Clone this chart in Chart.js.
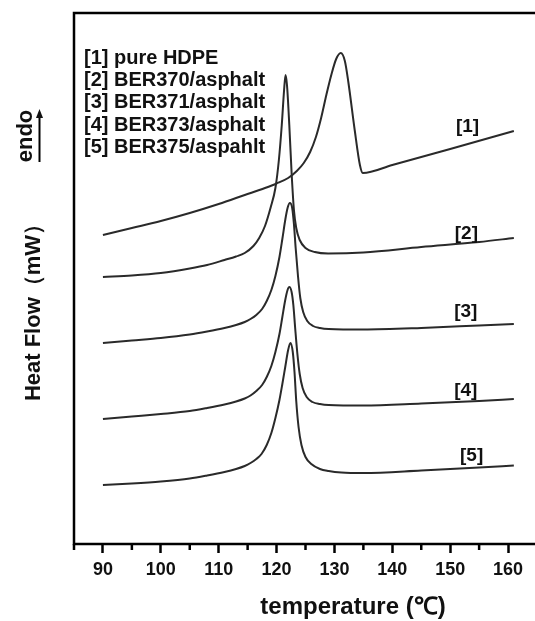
<!DOCTYPE html>
<html>
<head>
<meta charset="utf-8">
<script src="https://cdn.jsdelivr.net/npm/chart.js@4"></script>
<style>
  html, body { margin: 0; padding: 0; background: #fff; overflow: hidden; }
  #wrap { width: 550px; height: 621px; position: relative; }
</style>
</head>
<body>
<div id="wrap"><canvas id="dsc"></canvas></div>
<script>
// curve names, in legend order
const names = ['[1] pure HDPE', '[2] BER370/asphalt', '[3] BER371/asphalt', '[4] BER373/asphalt', '[5] BER375/aspahlt'];
const tags = ['[1]', '[2]', '[3]', '[4]', '[5]'];

// temperature (°C) / heat flow (arbitrary, offset curves)
const t1 = [90, 95, 100, 105, 110, 114.5, 118, 120, 122, 123.5, 124.7, 125.8, 126.8, 127.7, 128.6, 129.5, 130.3, 131.1, 131.8, 132.4, 133.5, 134.4, 134.9, 140, 150, 161];
const hf1 = [30.9, 31.6, 32.3, 33.1, 34.0, 34.9, 35.6, 36.05, 36.6, 37.3, 38.1, 39.2, 40.7, 42.6, 44.9, 47.0, 48.5, 49.1, 48.3, 46.2, 41.4, 37.9, 37.1, 37.9, 39.5, 41.3];

const t2 = [90, 95, 100, 105, 108, 111, 113, 114.5, 116, 117, 118, 119, 119.8, 120.4, 120.9, 121.3, 121.55, 121.8, 122.2, 122.6, 123.0, 123.4, 124.0, 125, 126.6, 128.9, 135, 145, 155, 161];
const hf2 = [26.7, 26.85, 27.1, 27.55, 27.9, 28.4, 28.75, 29.1, 29.8, 30.6, 31.8, 33.7, 35.6, 38.4, 41.9, 45.4, 46.9, 45.9, 41.9, 37.1, 33.4, 31.6, 30.4, 29.6, 29.2, 29.05, 29.15, 29.7, 30.2, 30.6];

const t3 = [90, 95, 100, 105, 108, 111, 113, 114.5, 115.5, 116.5, 117.5, 118.3, 119.1, 119.8, 120.5, 121.0, 121.5, 121.9, 122.3, 122.7, 123.0, 123.3, 123.7, 124.1, 124.6, 125.3, 126.3, 127.5, 129, 135, 145, 155, 161];
const hf3 = [20.1, 20.35, 20.6, 20.95, 21.25, 21.6, 21.9, 22.2, 22.5, 22.9, 23.5, 24.3, 25.4, 26.8, 28.7, 30.5, 32.4, 33.6, 34.1, 33.6, 32.0, 29.6, 26.8, 24.6, 23.2, 22.3, 21.8, 21.6, 21.5, 21.45, 21.6, 21.85, 22.0];

const t4 = [90, 95, 100, 105, 108, 111, 113, 114.5, 115.5, 116.5, 117.5, 118.3, 119.1, 119.8, 120.5, 121.0, 121.5, 121.9, 122.2, 122.6, 122.9, 123.2, 123.6, 124.0, 124.5, 125.2, 126.2, 127.5, 129, 135, 145, 155, 161];
const hf4 = [12.5, 12.75, 13.0, 13.3, 13.6, 13.95, 14.25, 14.55, 14.85, 15.3, 15.9, 16.7, 17.8, 19.2, 21.0, 22.7, 24.4, 25.4, 25.7, 25.2, 23.9, 21.7, 19.0, 17.0, 15.6, 14.7, 14.2, 14.0, 13.9, 13.85, 14.05, 14.3, 14.5];

const t5 = [90, 95, 100, 105, 108, 111, 113, 114.5, 115.5, 116.5, 117.4, 118.3, 119.1, 119.8, 120.5, 121.0, 121.5, 122.0, 122.4, 122.8, 123.1, 123.4, 123.8, 124.3, 125.0, 126.0, 127.5, 129, 131.2, 135, 145, 155, 161];
const hf5 = [5.9, 6.05, 6.25, 6.55, 6.85, 7.2, 7.5, 7.8, 8.1, 8.5, 9.0, 9.9, 11.1, 12.6, 14.4, 16.0, 17.7, 19.4, 20.1, 19.2, 17.2, 14.3, 11.7, 9.9, 8.7, 8.0, 7.5, 7.3, 7.15, 7.1, 7.35, 7.65, 7.85];

// where the [n] tags sit, in data units
const tagT = [153.0, 152.8, 152.7, 152.7, 153.7];
const tagHF = [41.7, 31.0, 23.2, 15.3, 8.8];

const xTicks = [90, 100, 110, 120, 130, 140, 150, 160];

const temps = [t1, t2, t3, t4, t5];
const flows = [hf1, hf2, hf3, hf4, hf5];

const FONT = "'Liberation Sans', Arial, sans-serif";

// frame, minor ticks, axis titles, legend text and curve tags
const decor = {
  id: 'decor',
  afterDraw(chart) {
    const { ctx, chartArea: a, scales: { x, y } } = chart;
    ctx.save();
    ctx.strokeStyle = '#000';
    ctx.lineWidth = 2.5;
    ctx.strokeRect(a.left, a.top, a.right - a.left, a.bottom - a.top);

    // minor ticks
    for (let v = 85; v <= 165; v += 10) {
      const px = x.getPixelForValue(v);
      ctx.beginPath();
      ctx.moveTo(px, a.bottom);
      ctx.lineTo(px, a.bottom + 6);
      ctx.stroke();
    }

    ctx.fillStyle = '#111';
    // legend block
    ctx.font = 'bold 20px ' + FONT;
    ctx.textAlign = 'left';
    ctx.textBaseline = 'middle';
    names.forEach((n, i) => ctx.fillText(n, 84, 58 + i * 22.4));

    // curve tags
    ctx.font = 'bold 19px ' + FONT;
    ctx.textAlign = 'center';
    tags.forEach((s, i) => {
      ctx.fillText(s, x.getPixelForValue(tagT[i]), y.getPixelForValue(tagHF[i]));
    });

    // x title
    ctx.font = 'bold 24px ' + FONT;
    ctx.textBaseline = 'alphabetic';
    ctx.fillText('temperature (\u2103)', 353, 614);

    // y title
    ctx.save();
    ctx.translate(34, 307);
    ctx.rotate(-Math.PI / 2);
    ctx.font = 'bold 22px ' + FONT;
    ctx.textBaseline = 'middle';
    ctx.fillText('Heat Flow\uFF08mW\uFF09', 0, 0);
    ctx.restore();

    ctx.save();
    ctx.translate(26, 136);
    ctx.rotate(-Math.PI / 2);
    ctx.font = 'bold 22px ' + FONT;
    ctx.textBaseline = 'middle';
    ctx.fillText('endo', 0, 0);
    ctx.restore();

    // endo arrow
    ctx.lineWidth = 2;
    ctx.beginPath();
    ctx.moveTo(39.5, 162);
    ctx.lineTo(39.5, 116);
    ctx.stroke();
    ctx.beginPath();
    ctx.moveTo(39.5, 109);
    ctx.lineTo(36, 118);
    ctx.lineTo(43, 118);
    ctx.closePath();
    ctx.fill();
    ctx.restore();
  }
};

new Chart(document.getElementById('dsc'), {
  type: 'line',
  data: {
    datasets: names.map((n, i) => ({
      label: n,
      data: temps[i].map((t, j) => ({ x: t, y: flows[i][j] })),
      borderColor: '#2a2a2a',
      borderWidth: 2,
      pointRadius: 0,
      fill: false,
      cubicInterpolationMode: 'monotone'
    }))
  },
  options: {
    responsive: true,
    maintainAspectRatio: false,
    animation: false,
    events: [],
    layout: { padding: { left: 74, top: 13, right: 13, bottom: 0 } },
    plugins: { legend: { display: false }, tooltip: { enabled: false } },
    scales: {
      x: {
        type: 'linear',
        min: 85,
        max: 165,
        afterBuildTicks: s => { s.ticks = xTicks.map(v => ({ value: v })); },
        afterFit: s => { s.height = 77; },
        border: { display: false },
        grid: { drawOnChartArea: false, tickLength: 9, tickWidth: 2.5, tickColor: '#000' },
        ticks: {
          color: '#111',
          padding: 6,
          font: { family: FONT, size: 18, weight: 'bold' },
          maxRotation: 0
        }
      },
      y: {
        display: false,
        min: 0,
        max: 53.1
      }
    }
  },
  plugins: [decor]
});
</script>
</body>
</html>
